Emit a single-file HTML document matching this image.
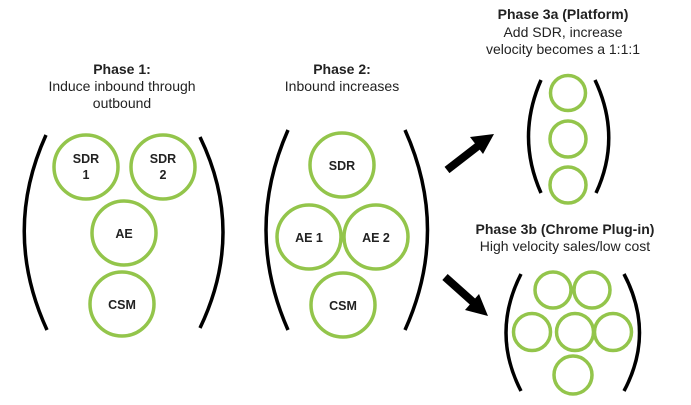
<!DOCTYPE html>
<html><head><style>
html,body{margin:0;padding:0;background:#fff;}
svg{display:block;}
text{font-family:"Liberation Sans",Arial,sans-serif;font-size:14px;fill:#222;text-anchor:middle;}
.b{font-weight:bold;}
.l{font-size:12.5px;font-weight:bold;}
.c{fill:none;stroke:#93c54b;stroke-width:3.5;}
.br{fill:none;stroke:#000;stroke-width:3.5;}
</style></head><body>
<svg width="691" height="405" viewBox="0 0 691 405">
<text x="122" y="74" class="b">Phase 1:</text>
<text x="122" y="91">Induce inbound through</text>
<text x="122" y="108">outbound</text>
<path class="br" d="M46,135 Q2,232 47,330"/>
<path class="br" d="M200,137 Q246,232 200,328"/>
<circle class="c" cx="86" cy="167" r="32"/>
<circle class="c" cx="163" cy="167" r="32"/>
<circle class="c" cx="124" cy="233" r="32"/>
<circle class="c" cx="122" cy="304" r="32"/>
<text x="86" y="163" class="l">SDR</text><text x="86" y="179" class="l">1</text>
<text x="163" y="163" class="l">SDR</text><text x="163" y="179" class="l">2</text>
<text x="124" y="238" class="l">AE</text>
<text x="122" y="309" class="l">CSM</text>

<text x="342" y="74" class="b">Phase 2:</text>
<text x="342" y="91">Inbound increases</text>
<path class="br" d="M288,130 Q244,230 288,330"/>
<path class="br" d="M405,130 Q450,230 405,330"/>
<circle class="c" cx="342" cy="165" r="32"/>
<circle class="c" cx="309" cy="237" r="32"/>
<circle class="c" cx="376" cy="237" r="32"/>
<circle class="c" cx="343" cy="305" r="32"/>
<text x="342" y="170" class="l">SDR</text>
<text x="309" y="242" class="l">AE 1</text>
<text x="376" y="242" class="l">AE 2</text>
<text x="343" y="310" class="l">CSM</text>

<text x="563" y="19" class="b">Phase 3a (Platform)</text>
<text x="563" y="37">Add SDR, increase</text>
<text x="563" y="54">velocity becomes a 1:1:1</text>
<path class="br" d="M541,80 Q516,137 541,193"/>
<path class="br" d="M595,80 Q622,137 596,193"/>
<circle class="c" cx="568" cy="93" r="17.5"/>
<circle class="c" cx="568" cy="139" r="18"/>
<circle class="c" cx="568" cy="185" r="18"/>

<text x="565" y="234" class="b">Phase 3b (Chrome Plug-in)</text>
<text x="565" y="251">High velocity sales/low cost</text>
<path class="br" d="M521,274 Q491,333 521,391"/>
<path class="br" d="M624,274 Q655,333 624,391"/>
<circle class="c" cx="553" cy="290" r="18"/>
<circle class="c" cx="592" cy="290" r="18"/>
<circle class="c" cx="532" cy="332" r="18.5"/>
<circle class="c" cx="575" cy="332" r="18.5"/>
<circle class="c" cx="613" cy="332" r="18.5"/>
<circle class="c" cx="573" cy="375" r="19"/>

<line x1="447" y1="170" x2="478" y2="146" stroke="#000" stroke-width="8"/>
<polygon points="494,134 470,137 483,154" fill="#000"/>
<line x1="445" y1="277" x2="473" y2="302" stroke="#000" stroke-width="8"/>
<polygon points="488,316 465,310 479,294" fill="#000"/>
</svg>
</body></html>
